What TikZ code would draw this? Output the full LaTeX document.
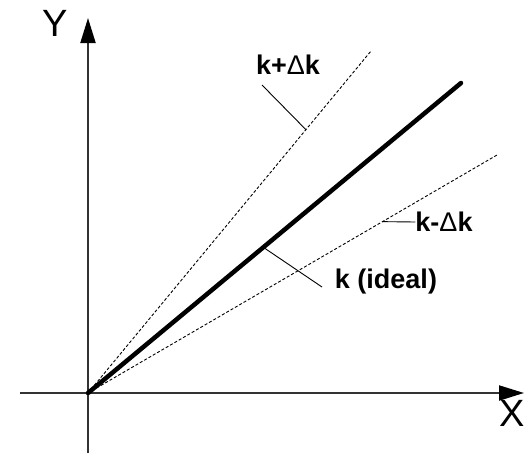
\documentclass[tikz,border=0pt]{standalone}
\usepackage{fontspec}
\setmainfont{Liberation Sans}
\usetikzlibrary{arrows.meta, positioning, calc}

\begin{document}
\begin{tikzpicture}[
  x=1pt, y=-1pt,
  every node/.style={font=\fontsize{27}{30}\selectfont\bfseries, inner sep=0pt},
  axislabel/.style={font=\fontsize{38}{40}\selectfont},
  axis/.style={line width=2pt, black!80, -{Triangle[length=25pt, width=15pt, black]}},
  ideal/.style={line width=4.5pt, line cap=round},
  bound/.style={line width=0.9pt, dash pattern=on 3pt off 2pt},
  leader/.style={line width=0.9pt},
]
\useasboundingbox (0,0) rectangle (528,453);
\coordinate (O)  at (88,393);
\coordinate (kk) at (461,83);
\coordinate (kp) at (371,51);
\coordinate (km) at (497,155);
\coordinate (yb) at (88,453);
\coordinate (yt) at (88,18);
\coordinate (xl) at (20,393);
\coordinate (xr) at (524,393);
% axes
\draw[axis] (yb) -- (yt);
\draw[axis] (xl) -- (xr);
\node[axislabel] (ylab) at (55,23) {Y};
\node[axislabel] (xlab) at (512,413) {X};
% lines
\draw[bound] (O) -- (kp);
\draw[bound] (O) -- (km);
\draw[ideal] (O) -- (kk);
% labels
\node (lkp) at (288,65)  {k+{\mdseries Δ}k};
\node (lkm) at (444,222) {k-{\mdseries Δ}k};
\node (lkk) at (386,282) {k (ideal)};
\coordinate (pkp) at ($(O)!0.77!(kp)$);
\coordinate (pkm) at ($(O)!0.72!(km)$);
\coordinate (pkk) at ($(O)!0.47!(kk)$);
\draw[leader] (262,85) -- (pkp);
\draw[leader] (pkm) -- (lkm.west);
\draw[leader] (pkk) -- (322,287);
\end{tikzpicture}
\end{document}
